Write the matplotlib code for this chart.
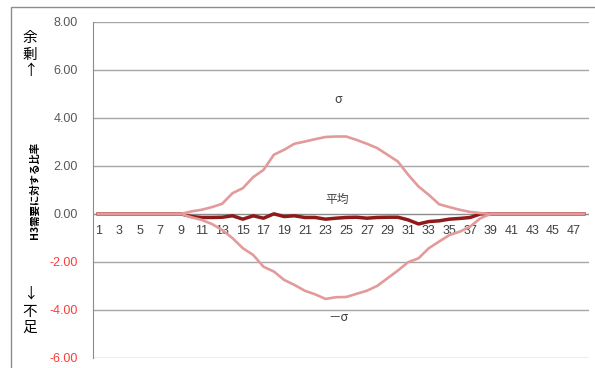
import matplotlib
matplotlib.use("Agg")
import matplotlib.pyplot as plt
from matplotlib.patches import Rectangle
import numpy as np

plt.rcParams['font.family'] = ['Noto Sans CJK JP', 'DejaVu Sans']

categories = list(range(1, 49))

sigma_upper = [0]*9 + [0.10, 0.17, 0.28, 0.42, 0.86, 1.07, 1.53, 1.83, 2.46, 2.67,
                        2.92, 3.01, 3.11, 3.20, 3.22, 3.22, 3.08, 2.92, 2.74, 2.46,
                        2.18, 1.63, 1.14, 0.79, 0.40, 0.28, 0.17, 0.08, 0.03] + [0]*10

sigma_lower = [0]*9 + [-0.14, -0.25, -0.42, -0.67, -1.01, -1.43, -1.71, -2.20, -2.40, -2.75,
                        -2.96, -3.20, -3.35, -3.54, -3.47, -3.46, -3.33, -3.20, -3.00, -2.68,
                        -2.36, -2.01, -1.85, -1.43, -1.15, -0.88, -0.74, -0.53, -0.18] + [0]*10

mean_vals = [0]*9 + [-0.11, -0.15, -0.15, -0.14, -0.08, -0.22, -0.08, -0.18, 0.00, -0.11,
                      -0.08, -0.15, -0.15, -0.22, -0.18, -0.15, -0.14, -0.18, -0.15, -0.14,
                      -0.14, -0.25, -0.42, -0.32, -0.29, -0.22, -0.19, -0.15, 0.00] + [0]*10

y_ticks = [8, 6, 4, 2, 0, -2, -4, -6]
x_tick_labels = [str(c) for c in categories if c % 2 == 1]

W, H = 595, 368
fig = plt.figure(figsize=(W/100, H/100), dpi=100)
ax = fig.add_axes([93/W, 1-358/H, (589-93)/W, (358-21.7)/H])

# outer frame
fig.patches.append(Rectangle((11/W, -0.1), 1.2, (1-7/H)+0.1, transform=fig.transFigure,
                             fill=False, edgecolor='#8c8c8c', linewidth=1.0))

grid_c = '#a6a6a6'
for yv in y_ticks:
    if yv != 0:
        ax.axhline(yv, color=grid_c, linewidth=1.0, zorder=1)
ax.axhline(0, color='#8c8c8c', linewidth=1.0, zorder=1)

ax.plot(categories, mean_vals, color='#8f1a1a', linewidth=2.5, zorder=3, solid_joinstyle='round')
ax.plot(categories, sigma_upper, color='#e39a9a', linewidth=1.9, zorder=4, solid_joinstyle='round')
ax.plot(categories, sigma_lower, color='#e39a9a', linewidth=1.9, zorder=4, solid_joinstyle='round')

ax.set_xlim(0.5, 48.5)
ax.set_ylim(-6, 8)

for s in ['top', 'right', 'bottom']:
    ax.spines[s].set_visible(False)
ax.spines['left'].set_color('#8c8c8c')
ax.set_xticks([])
ax.set_yticks(y_ticks)
ax.set_yticklabels([f"{v:.2f}" if v >= 0 else f"-{abs(v):.2f}" for v in y_ticks],
                   fontsize=9, family=['Liberation Sans', 'DejaVu Sans'])
for lab, v in zip(ax.get_yticklabels(), y_ticks):
    lab.set_color('#595959' if v >= 0 else '#ff3b3b')
ax.tick_params(axis='y', length=0, pad=11)

for c in categories:
    if c % 2 == 1:
        ax.text(c, -0.72, str(c), ha='center', va='center', fontsize=9,
                color='#404040', family=['Liberation Sans', 'DejaVu Sans'])

ax.text(24.2, 4.75, 'σ', ha='center', va='center', fontsize=9, color='#404040')
ax.text(24.1, 0.58, '平均', ha='center', va='center', fontsize=8.5, color='#404040')
ax.text(24.2, -4.3, '－σ', ha='center', va='center', fontsize=9, color='#404040')

fig.text(35/W, 1-190/H, 'H3需要に対する比率', rotation=90, ha='center', va='center',
         fontsize=7.5, fontweight='bold', color='#000000')

for ch, yp in [('余', 38), ('剰', 55), ('↑', 71), ('↓', 294), ('不', 312), ('足', 328)]:
    fig.text(30/W, 1-yp/H, ch, ha='center', va='center', fontsize=10.5, rotation=0,
             color='#000000', family=['Noto Sans CJK JP', 'DejaVu Sans'])

fig.savefig('out.png', dpi=100)
